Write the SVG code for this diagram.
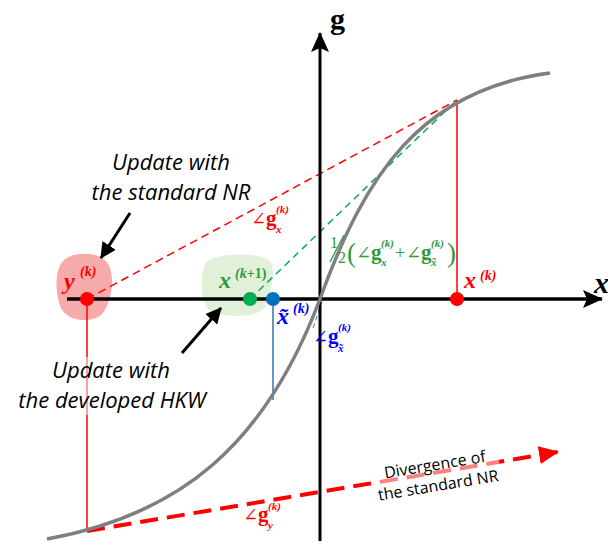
<svg xmlns="http://www.w3.org/2000/svg" width="608" height="541" viewBox="0 0 608 541">
<style>
.m{font-family:"Liberation Serif","DejaVu Serif",serif;}
.b{font-weight:bold;}
.i{font-style:italic;}
.lbl{font-family:"Open Sans","Liberation Sans",sans-serif;font-style:italic;font-size:22px;fill:#000;}
.div{font-family:"Open Sans","Liberation Sans",sans-serif;font-size:16px;fill:#000;}
.red{fill:#ff0000;}
.grn{fill:#2f9a3a;}
.blu{fill:#0000ff;}
.s{font-size:11px;font-weight:bold;font-style:italic;}
</style>
<defs>
<marker id="axh" markerWidth="20" markerHeight="18" refX="19" refY="9" orient="auto" markerUnits="userSpaceOnUse" viewBox="0 0 20 18">
<path d="M0,0 L20,9 L0,18 L4,9 Z" fill="#000"/>
</marker>
<marker id="rh" markerWidth="20" markerHeight="18" refX="19" refY="9" orient="auto" markerUnits="userSpaceOnUse" viewBox="0 0 20 18">
<path d="M0,0 L20,9 L0,18 Z" fill="#ff0000"/>
</marker>
<marker id="bh" markerWidth="16" markerHeight="16" refX="15" refY="8" orient="auto" markerUnits="userSpaceOnUse" viewBox="0 0 16 16">
<path d="M0,0 L16,8 L0,16 Z" fill="#000"/>
</marker>
</defs>

<g id="blob-y">
<path d="M62,262 C72,250 104,250 110,268 C115,284 110,304 102,314 C92,324 66,322 60,306 C55,290 55,272 62,262 Z" fill="#f7aaaa"/>
</g>
<g id="blob-x1">
<path d="M206,262 C218,252 262,252 271,262 C276,276 270,292 266,306 C258,318 232,318 212,312 C200,306 199,276 206,262 Z" fill="#e2efd9"/>
</g>

<g id="connectors">
<line x1="87" y1="299" x2="87" y2="531" stroke="#ff0000" stroke-width="1.5"/>
<line x1="457" y1="100" x2="457" y2="299" stroke="#ff0000" stroke-width="1.5"/>
<line x1="273" y1="299" x2="273" y2="400" stroke="#2e75b6" stroke-width="1.5"/>
<line x1="87" y1="299" x2="457" y2="100" stroke="#ff0000" stroke-width="1.5" stroke-dasharray="8,5"/>
<line x1="250" y1="299" x2="457" y2="100" stroke="#00b050" stroke-width="1.5" stroke-dasharray="7,5"/>
<line x1="313" y1="328" x2="322" y2="302" stroke="#5b9bd5" stroke-width="1.2" stroke-dasharray="5,3"/>
<line x1="87" y1="531" x2="558" y2="452" stroke="#ff0000" stroke-width="4" stroke-dasharray="18,9" marker-end="url(#rh)"/>
<line x1="67" y1="299" x2="602" y2="299" stroke="#000" stroke-width="3.5" marker-end="url(#axh)"/>
<line x1="320" y1="541" x2="320" y2="33" stroke="#000" stroke-width="3" marker-end="url(#axh)"/>
<line x1="130" y1="213" x2="101" y2="258" stroke="#000" stroke-width="3" marker-end="url(#bh)"/>
<line x1="182" y1="353" x2="221" y2="308" stroke="#000" stroke-width="3" marker-end="url(#bh)"/>
</g>

<g id="curve">
<path d="M47,539 C180,515 265,445 320,299 C365,175 420,90 550,73" fill="none" stroke="#7f7f7f" stroke-width="3.5"/>
</g>

<g id="divergence-label" transform="translate(437,478) rotate(-9.4)">
<rect x="-64" y="-28" width="128" height="46" fill="#fff" fill-opacity="0.5"/>
<text class="div" x="0" y="-8" text-anchor="middle">Divergence of</text>
<text class="div" x="0" y="13" text-anchor="middle">the standard NR</text>
</g>

<g id="pt-y"><circle cx="87" cy="299" r="7" fill="#ff0000"/></g>
<g id="pt-x1"><circle cx="250" cy="299" r="7" fill="#00b050"/></g>
<g id="pt-xt"><circle cx="273" cy="299" r="7" fill="#0070c0"/></g>
<g id="pt-x"><circle cx="457" cy="299" r="7" fill="#ff0000"/></g>

<g id="label-g"><text class="m b" x="330" y="29" font-size="30">g</text></g>
<g id="label-x"><text class="m b i" x="594" y="293" font-size="30">x</text></g>

<g id="label-y">
<text class="m b i red" x="64" y="289" font-size="24">y<tspan x="80" y="276" font-size="14">(k)</tspan></text>
</g>
<g id="label-x1">
<text class="m b i grn" x="219" y="288" font-size="24">x<tspan x="235" y="278" font-size="14">(k<tspan font-style="normal">+1)</tspan></tspan></text>
</g>
<g id="label-xt">
<text class="m b i blu" x="277" y="324" font-size="24">x̃<tspan x="293" y="313" font-size="14">(k)</tspan></text>
</g>
<g id="label-xk">
<text class="m b i red" x="464" y="288" font-size="24">x<tspan x="480" y="280" font-size="14">(k)</tspan></text>
</g>

<g id="angle-gx">
<text class="m red" x="251" y="225" font-size="18">∠<tspan class="b" font-size="21">g</tspan><tspan class="s" x="276" y="213">(k)</tspan><tspan class="s" x="276" y="233">x</tspan></text>
</g>
<g id="angle-gxt">
<text class="m blu" x="313" y="343" font-size="18">∠<tspan class="b" font-size="21">g</tspan><tspan class="s" x="338" y="331">(k)</tspan><tspan class="s" x="338" y="352">x̃</tspan></text>
</g>
<g id="angle-gy">
<text class="m red" x="243" y="521" font-size="18">∠<tspan class="b" font-size="21">g</tspan><tspan class="s" x="268" y="510">(k)</tspan><tspan class="s" x="268" y="529">y</tspan></text>
</g>
<g id="angle-avg">
<line x1="330" y1="262" x2="344" y2="235" stroke="#2f9a3a" stroke-width="1.3"/>
<text class="m grn" x="330" y="248" font-size="16">1<tspan x="338" y="263">2</tspan><tspan x="347" y="262" font-size="27">(</tspan><tspan x="356" y="259" font-size="18">∠</tspan><tspan class="b" font-size="21" y="259">g</tspan><tspan class="s" x="381" y="247">(k)</tspan><tspan class="s" x="381" y="266">x</tspan><tspan x="395" y="259" font-size="18">+</tspan><tspan x="406" y="259" font-size="18">∠</tspan><tspan class="b" font-size="21" y="259">g</tspan><tspan class="s" x="431" y="247">(k)</tspan><tspan class="s" x="431" y="266">x̃</tspan><tspan x="447" y="262" font-size="27">)</tspan></text>
</g>

<g id="note-nr">
<text class="lbl" x="171" y="170" text-anchor="middle">Update with</text>
<text class="lbl" x="171" y="200" text-anchor="middle">the standard NR</text>
</g>
<g id="note-hkw">
<rect x="12" y="357" width="202" height="58" fill="#fff" fill-opacity="0.5"/>
<text class="lbl" x="111" y="378" text-anchor="middle">Update with</text>
<text class="lbl" x="112" y="408" text-anchor="middle">the developed HKW</text>
</g>
</svg>
